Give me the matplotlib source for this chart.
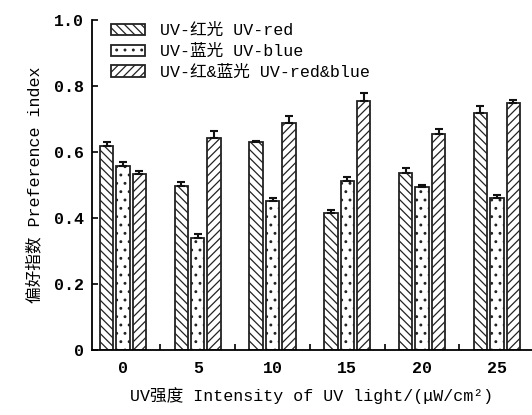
import matplotlib
matplotlib.use("Agg")
import matplotlib.pyplot as plt
import numpy as np

plt.rcParams['font.family'] = ['Liberation Mono', 'Noto Sans CJK SC']
plt.rcParams['hatch.linewidth'] = 0.9

groups = ['0', '5', '10', '15', '20', '25']
series = ['UV-红光 UV-red', 'UV-蓝光 UV-blue', 'UV-红&蓝光 UV-red&blue']
red = [0.617, 0.496, 0.630, 0.416, 0.535, 0.717]
red_err = [0.014, 0.014, 0.002, 0.008, 0.016, 0.021]
blue = [0.558, 0.339, 0.451, 0.512, 0.493, 0.460]
blue_err = [0.012, 0.013, 0.010, 0.012, 0.008, 0.010]
redblue = [0.532, 0.641, 0.688, 0.754, 0.655, 0.749]
redblue_err = [0.011, 0.023, 0.022, 0.026, 0.014, 0.008]

values = [red, blue, redblue]
errors = [red_err, blue_err, redblue_err]
hatches = ['\\\\\\\\', '..', '////']

fig = plt.figure(figsize=(5.32, 4.15), dpi=100)
ax = fig.add_axes([0.173, 0.157, 0.827, 0.795])

x = np.arange(len(groups))
w = 0.18
step = 0.22
for k in range(3):
    pos = x + (k - 1) * step
    ax.bar(pos, values[k], width=w, color='white', edgecolor='#222222',
           linewidth=1.3, hatch=hatches[k], label=series[k],
           yerr=[np.zeros(len(groups)), errors[k]],
           error_kw=dict(ecolor='#111111', elinewidth=1.5, capsize=3, capthick=1.5))

ax.set_xlim(-0.414, 5.47)
ax.set_ylim(0, 1.0)
ax.set_xticks(x)
ax.set_xticklabels(groups)
ax.set_xticks(x[:-1] + 0.5, minor=True)
ax.tick_params(axis='x', which='major', length=0, pad=8, labelsize=12)
ax.tick_params(axis='x', which='minor', direction='in', length=4, width=1.2)
ax.set_yticks([0, 0.2, 0.4, 0.6, 0.8, 1.0])
ax.set_yticklabels(['0', '0.2', '0.4', '0.6', '0.8', '1.0'])
ax.tick_params(axis='y', direction='in', length=4, width=1.2, labelsize=12, pad=6)
for lab in ax.get_xticklabels() + ax.get_yticklabels():
    lab.set_fontweight('bold')

ax.spines['top'].set_visible(False)
ax.spines['right'].set_visible(False)
ax.spines['left'].set_linewidth(1.3)
ax.spines['bottom'].set_linewidth(1.3)

ax.set_xlabel('UV强度 Intensity of UV light/(μW/cm²)', fontsize=12, labelpad=8)
ax.set_ylabel('偏好指数 Preference index', fontsize=12, labelpad=8)

ax.legend(loc='upper left', bbox_to_anchor=(0.01, 1.035), frameon=False,
          fontsize=12, handlelength=2.0, handleheight=0.7, labelspacing=0.35,
          handletextpad=0.9)

fig.savefig('out.png', dpi=100)
